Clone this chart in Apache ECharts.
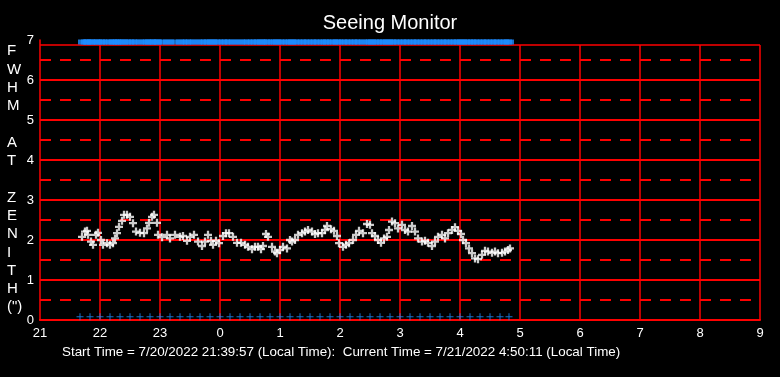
<!DOCTYPE html>
<html>
<head>
<meta charset="utf-8">
<script src="https://cdn.jsdelivr.net/npm/echarts@6/dist/echarts.min.js"></script>
<style>
html, body { margin: 0; padding: 0; background: #000; }
#seeing { width: 780px; height: 377px; }
</style>
</head>
<body>
<div id="seeing"></div>
<script>
// minutes after 21:00 local time
var hourLabels = ['21', '22', '23', '0', '1', '2', '3', '4', '5', '6', '7', '8', '9'];

var fwhmTimes = [
    42, 45, 47, 48, 51, 53, 56, 58, 61, 63, 67, 70, 73, 75, 77, 79, 82, 84, 87, 90,
    93, 96, 100, 104, 107, 109, 112, 114, 117, 118, 122, 127, 130, 135, 140, 143, 147, 150, 154, 158,
    162, 165, 168, 171, 173, 176, 179, 183, 186, 189, 193, 197, 201, 205, 208, 212, 215, 218, 221, 223,
    226, 228, 232, 235, 237, 240, 243, 247, 250, 252, 255, 258, 262, 265, 268, 272, 275, 278, 282, 285,
    287, 291, 294, 297, 299, 303, 306, 309, 313, 316, 319, 323, 327, 330, 332, 335, 338, 341, 344, 347,
    349, 352, 355, 358, 362, 365, 368, 372, 375, 378, 382, 385, 388, 392, 395, 398, 402, 405, 408, 412,
    415, 418, 421, 423, 426, 429, 432, 435, 438, 442, 445, 448, 452, 455, 458, 462, 465, 468, 470
];
var fwhmValues = [
    2.08, 2.21, 2.23, 2.13, 1.96, 1.88, 2.13, 2.18, 2.00, 1.88, 1.92, 1.88, 1.92, 2.04, 2.17, 2.33, 2.48, 2.63, 2.63, 2.58,
    2.42, 2.21, 2.18, 2.17, 2.29, 2.43, 2.58, 2.63, 2.43, 2.13, 2.07, 2.13, 2.04, 2.13, 2.08, 2.10, 1.98, 2.08, 2.13, 1.96,
    1.85, 1.96, 2.13, 1.98, 1.88, 1.98, 1.92, 2.10, 2.17, 2.17, 2.08, 1.93, 1.93, 1.88, 1.83, 1.77, 1.83, 1.83, 1.77, 1.85,
    2.15, 2.08, 1.83, 1.71, 1.67, 1.75, 1.83, 1.79, 2.00, 1.96, 2.00, 2.13, 2.17, 2.21, 2.25, 2.21, 2.15, 2.17, 2.17, 2.25,
    2.35, 2.27, 2.23, 2.10, 1.92, 1.83, 1.88, 1.92, 2.00, 2.13, 2.23, 2.17, 2.40, 2.38, 2.17, 2.10, 2.00, 1.93, 2.04, 2.08,
    2.25, 2.46, 2.42, 2.29, 2.38, 2.25, 2.21, 2.35, 2.21, 2.04, 1.96, 1.98, 1.93, 1.85, 1.96, 2.08, 2.13, 2.04, 2.17, 2.25,
    2.32, 2.23, 2.15, 2.00, 1.92, 1.79, 1.67, 1.54, 1.52, 1.63, 1.73, 1.71, 1.68, 1.71, 1.67, 1.68, 1.71, 1.75, 1.79
];

// blue status marks along the top and bottom
var topRowValue = 6.95;
var bottomTimes = [
    40, 50, 60, 70, 80, 90, 100, 110, 120, 130, 140, 150, 160, 170, 180, 190, 200, 210, 220, 230, 240, 250,
    260, 270, 280, 290, 300, 310, 320, 330, 340, 350, 360, 370, 380, 390, 400, 410, 420, 430, 440, 450, 460, 469
];
var bottomRowValue = 0.08;
var frameTop = 6.875;

var plusThin = 'path://M3,0h1v3h3v1h-3v3h-1v-3h-3v-1h3z';
var plusBold = 'path://M2.5,0h2v2.5h2.5v2h-2.5v2.5h-2v-2.5h-2.5v-2h2.5z';

var whitePts = [];
for (var i = 0; i < fwhmTimes.length; i++) {
    whitePts.push([fwhmTimes[i], fwhmValues[i]]);
}
var topPts = [];
for (var j = 0; j < fwhmTimes.length; j++) {
    topPts.push([fwhmTimes[j], topRowValue]);
}
var bottomPts = [];
for (var k = 0; k < bottomTimes.length; k++) {
    bottomPts.push([bottomTimes[k], bottomRowValue]);
}
// vertical hour lines, stopping at the frame top
var hourLines = [];
for (var h = 1; h < hourLabels.length; h++) {
    hourLines.push([{ coord: [h * 60, 0] }, { coord: [h * 60, frameTop] }]);
}
hourLines.push({ yAxis: frameTop });

var chart = echarts.init(document.getElementById('seeing'));
chart.setOption({
    backgroundColor: '#000',
    animation: false,
    title: [{
        text: 'Seeing Monitor',
        left: 'center',
        top: 8,
        textStyle: { color: '#fff', fontSize: 20, fontWeight: 'normal', fontFamily: 'Liberation Sans' }
    }, {
        text: 'Start Time = 7/20/2022 21:39:57 (Local Time):  Current Time = 7/21/2022 4:50:11 (Local Time)',
        left: 57,
        top: 341,
        textStyle: { color: '#fff', fontSize: 13.4, fontWeight: 'normal', fontFamily: 'Liberation Sans' }
    }],
    graphic: [{
        type: 'text',
        left: 7,
        top: 42,
        style: {
            text: 'F\nW\nH\nM\n\nA\nT\n\nZ\nE\nN\nI\nT\nH\n(")',
            fill: '#fff',
            font: '15px "Liberation Sans"',
            lineHeight: 18.3,
            align: 'center'
        }
    }],
    grid: { left: 40, right: 20, top: 40, bottom: 57 },
    xAxis: {
        type: 'value',
        min: 0,
        max: 720,
        interval: 60,
        axisLine: { lineStyle: { color: '#ff0000', width: 2 } },
        axisTick: { show: false },
        axisLabel: {
            color: '#fff',
            fontSize: 13,
            fontFamily: 'Liberation Sans',
            margin: 7,
            formatter: function (v) { return hourLabels[Math.round(v / 60)]; }
        },
        splitLine: { show: false }
    },
    yAxis: {
        type: 'value',
        min: 0,
        max: 7,
        interval: 1,
        axisLine: { show: true, lineStyle: { color: '#ff0000', width: 1.5 } },
        axisTick: { show: false },
        axisLabel: { color: '#fff', fontSize: 13, fontFamily: 'Liberation Sans', margin: 6 },
        splitLine: { show: true, showMaxLine: false, lineStyle: { color: '#ff0000', width: 2 } },
        minorTick: { show: false, splitNumber: 2 },
        minorSplitLine: { show: true, lineStyle: { color: '#ff0000', width: 2, type: [11, 9] } }
    },
    series: [{
        name: 'FWHM',
        type: 'scatter',
        symbol: plusBold,
        symbolSize: 8,
        itemStyle: { color: '#fff' },
        data: whitePts,
        z: 5,
        markLine: {
            silent: true,
            symbol: 'none',
            label: { show: false },
            lineStyle: { color: '#ff0000', width: 1.5, type: 'solid' },
            data: hourLines,
            z: 1
        }
    }, {
        name: 'top',
        type: 'scatter',
        clip: false,
        symbol: 'rect',
        symbolSize: [8, 5],
        itemStyle: { color: '#1e8cff' },
        data: topPts
    }, {
        name: 'bottom',
        type: 'scatter',
        clip: false,
        symbol: plusThin,
        symbolSize: 7,
        itemStyle: { color: '#1e8cff' },
        data: bottomPts
    }]
});
</script>
</body>
</html>
